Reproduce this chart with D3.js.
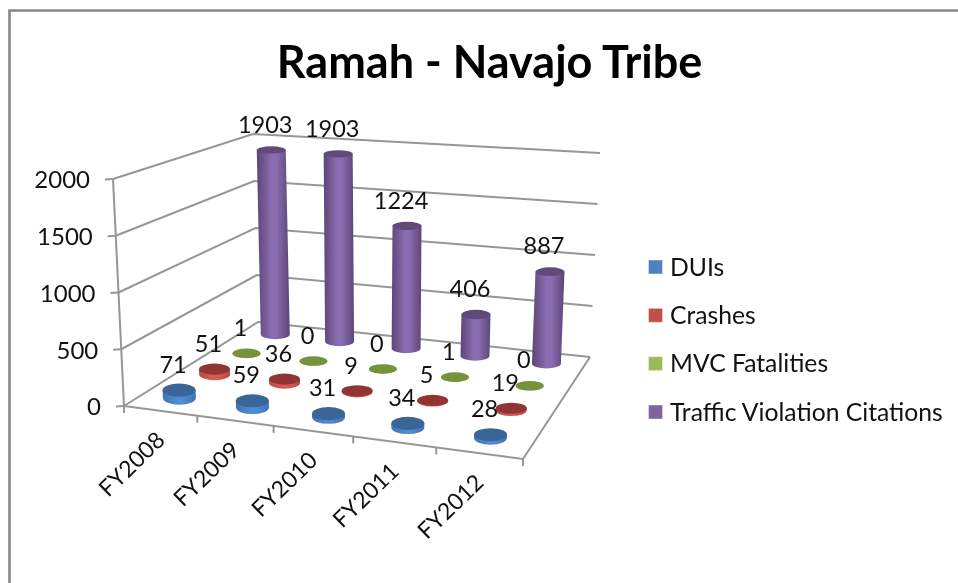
<!DOCTYPE html>
<html><head><meta charset="utf-8">
<script src="https://cdnjs.cloudflare.com/ajax/libs/d3/7.8.5/d3.min.js"></script>
<style>html,body{margin:0;padding:0;background:#fff;overflow:hidden}svg{display:block;filter:blur(.4px)}text{font-family:Lato,"Open Sans",sans-serif;fill:#111}</style>
</head><body><div id="chart"></div>
<script>
const title = "Ramah - Navajo Tribe";
const categories = ["FY2008","FY2009","FY2010","FY2011","FY2012"];
const seriesNames = ["DUIs","Crashes","MVC Fatalities","Traffic Violation Citations"];
const duis = [71,59,31,34,28];
const crashes = [51,36,9,5,19];
const fatalities = [1,0,0,1,0];
const citations = [1903,1903,1224,406,887];
const valueTicks = [0,500,1000,1500,2000];
const seriesValues = [duis,crashes,fatalities,citations];

const W=958,H=583;
const colors = {
  legend:["#4f81bd","#c0504d","#9bbb59","#8064a2"],
  top:["#3a6597","#8f3633","#76923c","#604a7b"],
  edge:["#3f74b0","#b84a47","#84a346","#5c4677"],
  mid:["#4f8cd2","#d85a56","#9bbb59","#8a6db0"]
};
const rxs=[16.5,15.5,14,14.5], rys=[6.6,5.6,4.8,5];
const svg=d3.select("#chart").append("svg").attr("width",W).attr("height",H);
const defs=svg.append("defs");
seriesNames.forEach((s,i)=>{
  const g=defs.append("linearGradient").attr("id","g"+i);
  [[0,colors.edge[i]],[.45,colors.mid[i]],[.6,colors.mid[i]],[1,colors.edge[i]]].forEach(([o,c])=>g.append("stop").attr("offset",o).attr("stop-color",c));
});
// chart frame
svg.append("path").attr("d",`M9.5,${H}V10.5H${W}`).attr("fill","none").attr("stroke","#868686").attr("stroke-width",2.6);

// projection of the 3D box
function homography(q){
  const [[x0,y0],[x1,y1],[x2,y2],[x3,y3]]=q;
  const dx1=x1-x2,dx2=x3-x2,dx3=x0-x1+x2-x3,dy1=y1-y2,dy2=y3-y2,dy3=y0-y1+y2-y3;
  const den=dx1*dy2-dx2*dy1;
  const g=(dx3*dy2-dx2*dy3)/den,h=(dx1*dy3-dx3*dy1)/den;
  const a=x1-x0+g*x1,b=x3-x0+h*x3,d=y1-y0+g*y1,e=y3-y0+h*y3;
  return (u,v)=>{const w=g*u+h*v+1;return [(a*u+b*v+x0)/w,(d*u+e*v+y0)/w];};
}
const floor=homography([[124,406],[523,459],[590,357],[258,322]]);
const ceil =homography([[113,179],[531,208],[600,153],[253,134]]);
const uScale=d3.scaleBand().domain(categories).range([0,1]);
const vScale=d3.scaleBand().domain(seriesNames).range([0,1]);
const zScale=d3.scaleLinear().domain([0,2000]).range([0,1]);
function project(u,v,val){
  const a=floor(u,v),b=ceil(u,v),t=zScale(val);
  return [a[0]+(b[0]-a[0])*t,a[1]+(b[1]-a[1])*t];
}
const line=d3.line();
const axisColor="#969696";
const axes=svg.append("g").attr("fill","none").attr("stroke",axisColor).attr("stroke-width",2);
valueTicks.forEach(t=>{
  axes.append("path").attr("d",line([project(0,0,t),project(0,1,t),project(1,1,t)]));
  const p=project(0,0,t);
  axes.append("path").attr("d",line([[p[0]-8,p[1]+0.5],p]));
  svg.append("text").attr("x",p[0]-23).attr("y",p[1]+1).attr("dy",".35em").attr("text-anchor","end").attr("font-size",24).text(t);
});
axes.append("path").attr("d",line([project(0,0,0),project(0,0,2000)]));
axes.append("path").attr("d",line([project(0,0,0),project(1,0,0),project(1,1,0)]));
const edgeTicks=[0,...categories.map(c=>uScale(c)+uScale.step())];
edgeTicks.forEach(u=>{const p=project(u,0,0);axes.append("path").attr("d",line([p,[p[0],p[1]+7]]));});

// cylinders, back to front
const marks=svg.append("g");
const labels=[];
d3.range(seriesNames.length-1,-1,-1).forEach(si=>{
  const v=vScale(seriesNames[si])+vScale.bandwidth()/2;
  categories.forEach((c,ci)=>{
    const val=seriesValues[si][ci], u=uScale(c)+uScale.bandwidth()/2;
    const b=project(u,v,0), t=project(u,v,val), rx=rxs[si];
    const ryB=rys[si], ryT=ryB*(1-.3*zScale(val));
    marks.append("path").attr("fill",`url(#g${si})`)
      .attr("d",`M${b[0]-rx},${b[1]}L${t[0]-rx},${t[1]}L${t[0]+rx},${t[1]}L${b[0]+rx},${b[1]}A${rx},${ryB} 0 0 1 ${b[0]-rx},${b[1]}Z`);
    marks.append("ellipse").attr("cx",t[0]).attr("cy",t[1]).attr("rx",rx).attr("ry",ryT).attr("fill",colors.top[si]);
    labels.push({x:t[0]-6,y:t[1]-25.5,text:val});
  });
});
svg.append("g").selectAll("text").data(labels).join("text")
  .attr("x",d=>d.x).attr("y",d=>d.y).attr("dy",".35em").attr("text-anchor","middle").attr("font-size",23.5).text(d=>d.text);

// category labels
categories.forEach(c=>{
  const p=project(uScale(c)+uScale.bandwidth()/2,0,0);
  svg.append("text").attr("transform",`translate(${p[0]+6},${p[1]+31}) rotate(-44)`).attr("text-anchor","end").attr("font-size",23).text(c);
});

// legend
const legendY=d3.scalePoint().domain(seriesNames).range([267,412]);
seriesNames.forEach((s,i)=>{
  svg.append("rect").attr("x",648.5).attr("y",legendY(s)-7).attr("width",14).attr("height",14).attr("fill",colors.legend[i]).attr("stroke","#fff").attr("stroke-opacity",.4);
  svg.append("text").attr("x",670).attr("y",legendY(s)).attr("dy",".35em").attr("font-size",24.7).text(s);
});
svg.append("text").attr("x",489.5).attr("y",62).attr("dy",".35em").attr("text-anchor","middle").attr("font-size",45).attr("font-weight",700).style("fill","#000").text(title);
</script></body></html>
